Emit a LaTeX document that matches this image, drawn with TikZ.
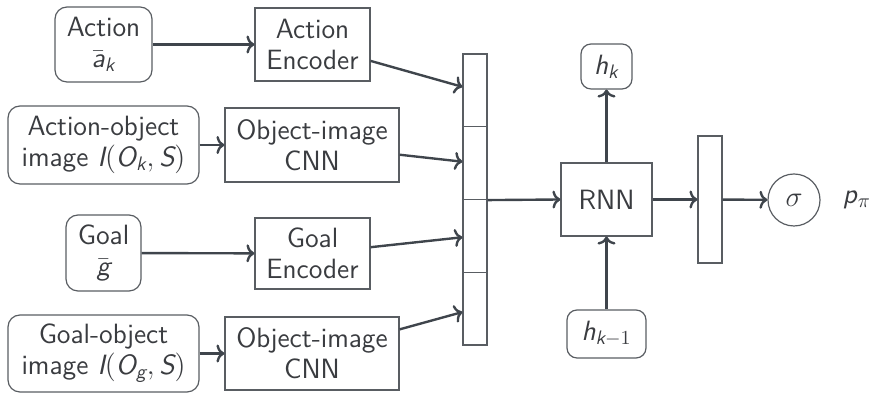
\documentclass[tikz,border=0pt]{standalone}
\usepackage{amsmath}
\usetikzlibrary{arrows.meta}
\definecolor{linegray}{HTML}{3F454C}
\definecolor{boxgray}{HTML}{595D62}
\definecolor{txtgray}{HTML}{3A3C40}
\newcommand{\vi}[1]{\textit{#1}}
\tikzset{
  inbox/.style={draw=boxgray, line width=0.6pt, rounded corners=6bp, align=center, inner sep=0pt, text=txtgray},
  encbox/.style={draw=boxgray, line width=0.6pt, align=center, inner sep=0pt, text=txtgray},
  cell/.style={draw=boxgray, line width=0.6pt, minimum width=12bp, minimum height=36.4bp, inner sep=0pt},
  arr/.style={draw=linegray, line width=1.2pt, -{To[length=4pt,width=9pt]}}
}
\begin{document}
\begin{tikzpicture}[x=0.5bp, y=-0.5bp, font=\sffamily\fontsize{14}{15.5}\selectfont]
	\useasboundingbox (0,0) rectangle (872,393);
	% inputs
	\node[inbox, minimum width=48.5bp, minimum height=37.5bp] (act) at (103.5,44.5) {Action\\ $\bar{\vi{a}}_{\vi{k}}$};
	\node[inbox, minimum width=95.5bp, minimum height=39bp] (actobj) at (103.5,145) {Action-object\\ image $\vi{I}(\vi{O}_{\vi{k}},\vi{S})$};
	\node[inbox, minimum width=37.5bp, minimum height=38bp] (goal) at (103.5,253) {Goal\\ $\bar{\vi{g}}$};
	\node[inbox, minimum width=95.5bp, minimum height=38.5bp] (goalobj) at (103.5,353.5) {Goal-object\\ image $\vi{I}(\vi{O}_{\vi{g}},\vi{S})$};
	% encoders
	\node[encbox, minimum width=57.5bp, minimum height=36.5bp] (aenc) at (312.5,44.5) {Action\\ Encoder};
	\node[encbox, minimum width=87bp, minimum height=37bp] (acnn) at (312,145) {Object-image\\ CNN};
	\node[encbox, minimum width=57.5bp, minimum height=35.5bp] (genc) at (312.5,253.5) {Goal\\ Encoder};
	\node[encbox, minimum width=87bp, minimum height=36.5bp] (gcnn) at (312,353.5) {Object-image\\ CNN};
	% stacked vector
	\node[cell] (cell1) at (475,90.4) {};
	\node[cell] (cell2) at (475,163.1) {};
	\node[cell] (cell3) at (475,235.9) {};
	\node[cell] (cell4) at (475,308.6) {};
	% recurrent part
	\node[encbox, minimum width=45.5bp, minimum height=36.5bp] (rnn) at (606.5,199.5) {RNN};
	\node[inbox, rounded corners=5bp, minimum width=25.5bp, minimum height=22.5bp] (hk) at (606.5,66.5) {$\vi{h}_{\vi{k}}$};
	\node[inbox, rounded corners=5bp, minimum width=39.5bp, minimum height=24bp] (hkm) at (606.5,334) {$\vi{h}_{\vi{k}-1}$};
	\node[draw=boxgray, line width=0.6pt, minimum width=12bp, minimum height=63.5bp, inner sep=0pt] (out) at (710,199.5) {};
	\node[draw=boxgray, line width=0.6pt, circle, minimum size=26bp, inner sep=0pt, text=txtgray] (sig) at (794,200) {$\sigma$};
	\node[text=txtgray] (ppi) at (857,200) {\vi{p}$_\pi$};
	% connections
	\draw[arr] (act) -- (aenc);
	\draw[arr] (actobj) -- (acnn);
	\draw[arr] (goal) -- (genc);
	\draw[arr] (goalobj) -- (gcnn);
	\draw[arr] (aenc) -- (cell1);
	\draw[arr] (acnn) -- (cell2);
	\draw[arr] (genc) -- (cell3);
	\draw[arr] (gcnn) -- (cell4);
	\draw[arr] (cell2.south east) -- (rnn.west);
	\draw[arr] (rnn) -- (hk);
	\draw[arr] (hkm) -- (rnn);
	\draw[arr] (rnn) -- (out);
	\draw[arr] (out) -- (sig);
\end{tikzpicture}
\end{document}
